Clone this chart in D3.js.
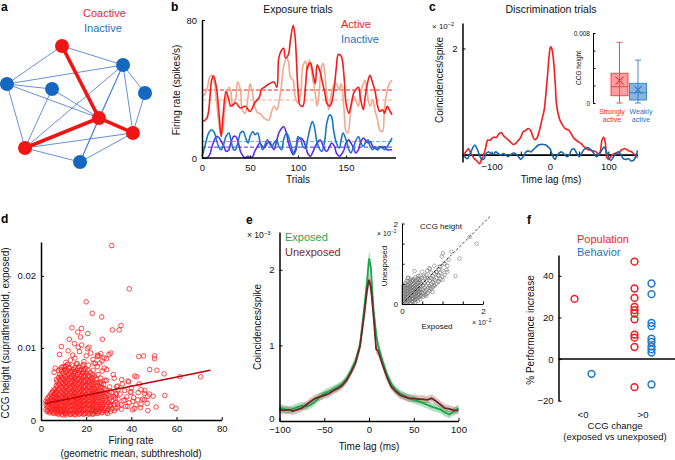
<!DOCTYPE html>
<html>
<head>
<meta charset="utf-8">
<script src="https://cdn.jsdelivr.net/npm/d3@7"></script>
<style>
  body { margin: 0; background: #fff; }
  svg { font-family: "Liberation Sans", Arial, Helvetica, sans-serif; }
</style>
</head>
<body>
<svg id="fig" width="675" height="460"></svg>
<script>
// ---------- data ----------
// a: network nodes (layout units) and edges
const netNodes = [
  { id: 'top', x: 4.07, y: 0.08, active: true },
  { id: 'ur', x: 8.43, y: 1.67, active: false },
  { id: 'left', x: 0.14, y: 3.25, active: false },
  { id: 'mid', x: 3.36, y: 3.67, active: false },
  { id: 'right', x: 10, y: 4.0, active: false },
  { id: 'ctr', x: 6.71, y: 6.08, active: true },
  { id: 'rr', x: 9.14, y: 7.33, active: true },
  { id: 'bl', x: 1.43, y: 8.58, active: true },
  { id: 'bot', x: 5.36, y: 9.75, active: false }
];
const thinEdges = [
  ['top', 'ur'], ['top', 'left'], ['left', 'ur'], ['left', 'mid'], ['left', 'ctr'],
  ['left', 'bl'], ['mid', 'bl'], ['mid', 'ctr'], ['ur', 'bl'], ['ur', 'ctr'],
  ['ur', 'bot'], ['ur', 'rr'], ['ur', 'right'], ['right', 'rr'], ['bl', 'rr'],
  ['bl', 'bot'], ['ctr', 'bot'], ['bot', 'rr']
];
const thickEdges = [['top', 'ctr'], ['ctr', 'rr'], ['ctr', 'bl']];

// b: firing rate per trial (spikes/s)
const activeA = [[0,21],[5,23],[10,45],[12,47.6],[15,41],[18,24],[20,12.5],[22,25],[25,38.5],[28,33.7],[30,30],[35,32],[40,29],[45,30],[50,27],[55,32],[60,35.6],[62,40],[65,41],[70,43],[75,44],[78,41],[80,58],[83,62.6],[85,63.6],[87,58],[90,60],[92,68],[95,77],[97,70],[100,39.5],[102,30.8],[105,30],[108,43],[110,53],[113,55],[115,51],[118,43],[120,54],[123,50],[125,45],[128,37.6],[130,31.8],[133,30],[135,32],[138,42],[140,53],[142,60],[145,59],[148,47],[150,31.8],[153,26],[155,30],[158,37.6],[160,39.5],[163,41],[165,34.7],[168,28],[170,35.6],[173,45],[175,48],[178,43],[180,39.5],[183,30],[185,27],[188,28],[190,26],[193,30],[195,28],[198,25]];
const activeB = [[0,34.7],[5,39.5],[8,47],[10,48],[13,43],[15,33.7],[18,18.3],[20,12.5],[22,18.3],[25,33.7],[28,41],[30,38.5],[32,30],[35,33.7],[37,44],[40,39.5],[42,28],[45,26],[48,35.6],[50,43],[52,39.5],[55,30],[58,26],[60,26],[65,23],[70,22],[72,26],[75,30],[78,28],[80,31.8],[83,43],[85,53],[88,58],[90,56],[92,47],[95,45],[97,35.6],[100,31.8],[103,37.6],[105,53],[108,56],[110,51],[112,57],[115,47],[118,37.6],[120,30],[122,37.6],[124,51],[126,55],[128,49],[130,35.6],[132,28],[135,37.6],[138,43],[140,43],[143,39.5],[145,43],[148,28],[150,15.4],[152,14.5],[155,28],[158,35.6],[160,33.7],[163,30],[165,37.6],[168,43],[170,45],[172,37.6],[175,30],[178,33.7],[180,28],[183,22],[185,16.4],[188,15.4],[190,28],[193,39.5],[195,43],[198,45]];
const inactiveA = [[0,1],[3,6.7],[7,14.5],[10,16.4],[13,14.5],[15,10.6],[18,5.8],[20,4.8],[23,8.7],[25,12.5],[28,14.5],[30,10.6],[33,4.8],[35,4.8],[38,10.6],[40,14.5],[43,15.4],[45,12.5],[48,8.7],[50,12.5],[53,15.4],[55,13.5],[58,14.5],[60,10.6],[63,4.8],[65,6.7],[68,10.6],[70,8.7],[73,6.7],[75,8.7],[78,10.6],[80,6.7],[83,4.8],[85,10.6],[88,14.5],[90,12.5],[93,6.7],[95,2.9],[98,6.7],[100,12.5],[103,10.6],[105,6.7],[108,5.8],[110,10.6],[113,18.3],[115,21.2],[117,18.3],[120,8.7],[123,4.8],[125,3.9],[128,10.6],[130,20.2],[133,25],[135,24],[137,16.4],[140,8.7],[143,5.8],[145,10.6],[147,14.5],[150,10.6],[153,4.8],[155,2.9],[158,6.7],[160,9.6],[163,12.5],[165,9.6],[168,6.7],[170,8.7],[173,10.6],[175,6.7],[178,4.8],[180,6.7],[183,4.8],[185,5.8],[188,6.7],[190,4.8],[193,6.7],[195,8.7],[198,11.6]];
const inactiveB = [[0,0],[5,0],[8,1.9],[10,5.8],[13,10.6],[15,12.5],[18,11.6],[20,9.6],[23,6.7],[25,3.9],[28,4.8],[30,8.7],[33,12.5],[35,12.5],[38,8.7],[40,3.9],[43,1],[45,0],[48,1],[50,0],[53,1],[55,3.9],[58,6.7],[60,8.7],[63,6.7],[65,5.8],[68,8.7],[70,9.6],[73,6.7],[75,4.8],[78,10.6],[80,14.5],[83,17.3],[85,18.3],[88,14.5],[90,8.7],[93,3.9],[95,1.9],[98,4.8],[100,10.6],[103,11.6],[105,10.6],[108,6.7],[110,2.9],[113,1],[115,2.9],[118,6.7],[120,8.7],[123,10.6],[125,8.7],[128,4.8],[130,3.9],[133,6.7],[135,8.7],[138,6.7],[140,2.9],[143,1],[145,1.9],[148,4.8],[150,8.7],[153,10.6],[155,8.7],[158,5.8],[160,2.9],[163,4.8],[165,8.7],[168,11.6],[170,10.6],[173,8.7],[175,9.6],[178,6.7],[180,5.8],[183,4.8],[185,6.7],[188,5.8],[190,6.7],[193,4.8],[195,4.8],[198,4.8]];
const meanRates = [39.4, 33.6, 9.5, 6.3]; // activeA, activeB, inactiveA, inactiveB

// c: CCG, time lag (ms) vs coincidences/spike (x1e-2)
const ccgStrong = [[-150,-0.04],[-146,0.02],[-140,0.11],[-138,0.08],[-135,0.01],[-132,-0.04],[-129,-0.09],[-126,-0.11],[-121,-0.17],[-117,-0.08],[-113,0.02],[-110,0.14],[-107,0.27],[-103,0.27],[-100,0.3],[-96,0.33],[-92,0.32],[-87,0.4],[-83,0.41],[-80,0.36],[-76,0.32],[-72,0.28],[-68,0.24],[-63,0.19],[-58,0.22],[-54,0.27],[-50,0.33],[-46,0.43],[-41,0.46],[-37,0.49],[-33,0.45],[-30,0.36],[-26,0.28],[-22,0.32],[-18,0.46],[-14,0.65],[-10,0.84],[-7,1.15],[-4,1.53],[-1,1.91],[1,2.03],[3,2.0],[6,1.78],[9,1.34],[11,0.96],[14,0.77],[17,0.65],[22,0.55],[26,0.49],[32,0.46],[36,0.4],[40,0.32],[45,0.27],[49,0.24],[53,0.21],[57,0.16],[62,0.11],[66,0.09],[70,0.08],[74,0.07],[79,0.05],[83,0.01],[86,0.05],[89,0.27],[92,0.33],[95,0.21],[97,-0.04],[100,-0.09],[104,-0.04],[109,0.01],[113,0.03],[117,0.03],[123,0.09],[129,0.11],[135,0.07],[140,0.05],[146,-0.01],[150,-0.06]];
const ccgWeak = [[-150,0.01],[-146,-0.04],[-142,-0.08],[-138,-0.01],[-133,0.11],[-129,0.18],[-125,0.11],[-121,-0.01],[-117,-0.09],[-113,-0.08],[-110,0.01],[-106,0.05],[-102,0.03],[-97,0.01],[-93,0.05],[-89,0.02],[-85,-0.01],[-80,0.02],[-76,-0.01],[-72,-0.04],[-68,-0.01],[-63,0.03],[-58,0.01],[-54,-0.04],[-50,-0.09],[-46,-0.04],[-41,0.05],[-37,0.07],[-33,0.05],[-29,0.09],[-24,0.14],[-20,0.18],[-16,0.19],[-11,0.19],[-7,0.18],[-3,0.14],[0,0.11],[3,0.02],[6,-0.06],[9,-0.09],[11,-0.04],[16,0.03],[20,0.05],[24,0.01],[29,-0.04],[33,-0.01],[37,0.09],[41,0.11],[46,0.02],[50,-0.04],[54,0.02],[58,0.09],[63,0.13],[68,0.11],[72,0.07],[76,0.01],[80,-0.04],[85,0.01],[89,0.09],[93,0.14],[96,0.08],[100,-0.04],[104,-0.11],[109,-0.04],[113,0.02],[117,0.05],[121,0.01],[126,-0.08],[131,-0.09],[135,-0.08],[139,-0.12],[143,-0.11],[148,-0.01],[150,0.08]];
// c inset: CCG height box stats (x1e-3)
const boxGroups = ['Strongly active', 'Weakly active'];
const boxStats = [
  { min: 0, q1: 0.83, med: 1.86, mean: 2.55, q3: 3.4, max: 6.94 },
  { min: 0, q1: 0.34, med: 1.18, mean: 1.49, q3: 2.25, max: 4.9 }
];

// d: firing rate vs CCG height (x1e-3)
const dSparse = [[31.3,24.2],[39.1,18.2],[20,16.4],[22.7,14.8],[26.9,14.3],[13.7,12.8],[16.3,12.2],[17.9,12.7],[20.7,12.0],[35.4,13.1],[34.6,12.5],[31.6,12.5],[27.2,11.2],[12.5,11.2],[14.8,10.6],[9,10.2],[8.2,9.1],[21.2,10.1],[17.5,11.5],[45.4,8.9],[43.3,8.8],[50.3,8.9],[50.3,8.5],[48.1,7.0],[51.3,6.9],[54.5,6.4],[61.5,6.0],[70.7,6.0],[42.4,6.0],[54.8,3.4],[51,1.8],[47.3,1.3],[58,1.9],[59.7,1.6],[30.9,9.3],[30.1,9.1],[25.7,8.9],[27.9,8.6],[6.3,7.2],[10.7,7.4],[38.8,5.3],[35.7,5.6],[39.9,3.8],[44.3,4.2],[45.8,3.7],[47.3,3.3],[49.6,3.3],[42.8,2.8],[41.3,1.6],[38.4,1.9],[37.2,2.8],[33.1,3.5],[33.9,4.7],[32.4,5.8],[29.1,7.0],[24.9,7.4],[23.4,7.9],[26.4,5.3],[29.4,0.9],[26.4,1.6],[24.2,1.2],[45.8,2.8],[44.3,2.2],[40.6,2.6],[35.4,2.1],
  [29,5.5],[30.5,4.0],[31,2.0],[32,6.3],[32.5,1.3],[33,3.0],[33.5,4.6],[34,2.2],[35,3.6],[35.5,1.5],[36,5.0],[36.5,2.7],[37,4.1],[37.5,1.9],[38,3.2],[38.5,5.4],[39,2.4],[40,4.5],[40.5,1.4],[41,3.1],[42,2.1],[43,3.8],[44,1.7],[45,2.9],[46,4.1],[47,2.3],[48,3.6],[43.5,5.0],[41.5,6.1],[39.5,3.9],
  [9,7.3],[11,8.0],[13,8.3],[14,9.0],[15,8.6],[16,7.8],[17,9.5],[19,8.1],[20,8.9],[21,7.6],[22,9.3],[23,8.4],[24,7.8],[25,8.8],[26,7.9],[27,8.2],[28,7.2],[12,9.6],[18,10.4],[20.5,9.9],[16.5,10.1],[25,9.0],[26.5,9.2],[29,8.5]];
const dDense = [
  [2.2,[1.5,2.2,2.6]], [3.1,[1.3,1.9,2.5,3.1]], [4.3,[1.1,1.7,2.3,2.9,3.6]],
  [5.2,[1.0,1.6,2.1,2.8,3.4,4.0]], [6.4,[1.2,1.8,2.4,3.0,3.7,4.3]],
  [7.1,[0.9,1.5,2.0,2.6,3.2,3.9,4.6,5.3]], [8.3,[1.1,1.7,2.3,2.9,3.5,4.2,4.9,5.6,6.3]],
  [9.2,[0.8,1.4,2.0,2.6,3.2,3.8,4.5,5.2,5.9,6.8]], [10.4,[1.0,1.6,2.2,2.8,3.4,4.1,4.8,5.5,6.2,7.0]],
  [11.1,[0.7,1.3,1.9,2.5,3.1,3.7,4.4,5.1,5.8,6.6,7.5]], [12.3,[1.1,1.7,2.3,2.9,3.5,4.2,4.9,5.6,6.3,7.2]],
  [13.2,[0.8,1.4,2.0,2.6,3.2,3.9,4.6,5.3,6.0,6.8]], [14.4,[1.0,1.6,2.2,2.8,3.4,4.1,4.8,5.5,6.2,7.0]],
  [15.1,[0.7,1.3,1.9,2.5,3.1,3.7,4.4,5.1,5.8,6.5,7.3]], [16.3,[1.1,1.7,2.3,2.9,3.5,4.2,4.9,5.6,6.3,7.1]],
  [17.2,[0.9,1.5,2.1,2.7,3.3,4.0,4.7,5.4,6.1,6.9]], [18.4,[1.2,1.8,2.4,3.0,3.6,4.3,5.0,5.7,6.5,7.4]],
  [19.1,[0.9,1.5,2.1,2.7,3.3,4.0,4.7,5.4,6.2,7.0]], [20.3,[1.1,1.7,2.3,2.9,3.5,4.2,4.9,5.6,6.4]],
  [21.2,[0.8,1.4,2.0,2.6,3.2,3.9,4.6,5.3,6.1]], [22.4,[1.2,1.8,2.4,3.0,3.7,4.4,5.1,5.9]],
  [23.1,[0.9,1.5,2.1,2.8,3.5,4.2,5.0,5.8,6.9]], [24.3,[1.3,1.9,2.6,3.3,4.0,4.8,5.6]],
  [25.2,[1.0,1.7,2.4,3.1,3.9,4.7,6.3]], [26.4,[1.4,2.1,2.9,3.7,4.6,5.8]],
  [27.1,[1.1,1.9,2.7,3.6,4.5,6.8]], [28.3,[1.6,2.4,3.3,4.3,5.5]], [29.2,[1.3,2.2,3.1,4.1]],
  [30.4,[1.9,2.9,4.6]], [31.3,[1.5,2.6,3.8]], [32.2,[2.2,3.3]], [34.1,[1.8,2.9,4.2]],
  [2.7,[1.2,1.8,2.4,2.9]], [3.7,[1.0,1.6,2.2,2.7,3.3]], [4.8,[1.3,1.9,2.5,3.2,3.8]],
  [5.8,[0.9,1.4,1.9,2.6,3.1,3.6,4.2,6.6]], [6.8,[1.1,1.6,2.2,2.8,3.4,4.0,4.8,5.6]],
  [7.7,[0.8,1.3,1.8,2.4,3.0,3.6,4.3,5.0,5.9,6.9]], [8.8,[1.0,1.5,2.0,2.6,3.2,3.9,4.6,5.4,6.1,7.0]],
  [9.8,[0.7,1.2,1.8,2.4,3.0,3.6,4.3,5.0,5.7,6.5,7.4]], [10.8,[0.9,1.4,2.0,2.6,3.2,3.9,4.6,5.3,6.0,6.8]],
  [11.7,[1.0,1.6,2.2,2.8,3.4,4.0,4.7,5.4,6.1,6.9,7.7]], [12.8,[0.8,1.3,1.9,2.5,3.1,3.7,4.4,5.1,5.8,6.5,7.3]],
  [13.8,[0.9,1.5,2.1,2.7,3.3,3.9,4.6,5.3,6.0,6.7,7.6]], [14.8,[0.8,1.4,2.0,2.6,3.2,3.8,4.5,5.2,5.9,6.7]],
  [15.7,[1.0,1.6,2.2,2.8,3.4,4.0,4.7,5.4,6.1,6.9,7.8]], [16.8,[0.8,1.3,1.9,2.5,3.1,3.7,4.4,5.1,5.8,6.6,7.4]],
  [17.8,[1.0,1.6,2.2,2.8,3.4,4.1,4.8,5.5,6.2,7.0]], [18.8,[0.8,1.4,2.0,2.6,3.2,3.9,4.6,5.3,6.0,6.8,7.7]],
  [19.7,[1.0,1.6,2.2,2.8,3.4,4.1,4.8,5.5,6.2,7.1]], [20.8,[0.9,1.5,2.1,2.7,3.3,4.0,4.7,5.4,6.2,6.9]],
  [21.8,[1.0,1.6,2.2,2.8,3.5,4.2,4.9,5.6,6.6]], [22.8,[0.8,1.4,2.0,2.6,3.3,4.0,4.7,5.5,6.3]],
  [23.7,[1.1,1.7,2.3,3.0,3.7,4.4,5.2,6.1]], [24.8,[0.9,1.5,2.2,2.9,3.6,4.4,5.2]],
  [25.8,[1.2,1.9,2.6,3.4,4.2,5.1]], [26.8,[1.0,1.7,2.4,3.2,4.0,5.0]], [27.7,[1.3,2.1,2.9,3.8,4.9]],
  [28.8,[1.1,1.9,2.7,3.6]], [29.8,[1.5,2.4,3.4]], [30.8,[1.2,2.2,3.2]], [33.2,[1.6,2.5,3.7]]
];
const dFit = [[2, 2.3], [75, 6.9]];

// e: average CCG (x1e-3)
const eLag = [-100,-95,-90,-85,-80,-75,-70,-65,-60,-55,-50,-45,-40,-35,-30,-25,-20,-15,-10,-5,-2,0,2,5,8,10,15,20,25,30,35,40,45,50,55,60,65,70,75,80,85,90,95,100];
const eExposed = [0.17,0.16,0.14,0.16,0.185,0.2,0.19,0.215,0.26,0.32,0.365,0.39,0.42,0.45,0.49,0.56,0.67,0.8,1.01,1.53,1.87,2.15,2.04,1.48,1.15,1.01,0.8,0.62,0.49,0.41,0.36,0.33,0.3,0.28,0.26,0.24,0.215,0.19,0.17,0.15,0.11,0.086,0.13,0.17];
const eUnexposed = [0.15,0.14,0.15,0.13,0.15,0.17,0.215,0.26,0.3,0.32,0.34,0.36,0.4,0.43,0.47,0.54,0.645,0.77,0.99,1.44,1.75,1.87,1.78,1.4,0.95,0.93,0.75,0.58,0.45,0.39,0.34,0.32,0.3,0.3,0.29,0.29,0.28,0.3,0.26,0.215,0.17,0.16,0.14,0.14];
const eSem = [.05,.05,.05,.05,.05,.05,.05,.05,.05,.05,.05,.05,.05,.05,.05,.05,.05,.06,.07,.09,.1,.11,.1,.09,.07,.06,.05,.05,.05,.05,.05,.05,.05,.05,.05,.05,.05,.05,.05,.05,.05,.05,.05,.05];
// e inset: CCG height exposed vs unexposed (x1e-2)
const eInsetDense = [
  [0.03,[0.03,0.1,0.17,0.24,0.31,0.38,0.45]], [0.09,[0.02,0.09,0.16,0.23,0.3,0.37,0.44,0.52]],
  [0.15,[0.05,0.12,0.19,0.26,0.33,0.4,0.47,0.55,0.65]], [0.21,[0.03,0.1,0.17,0.24,0.31,0.38,0.45,0.53,0.62]],
  [0.27,[0.06,0.13,0.2,0.27,0.34,0.41,0.49,0.58]], [0.33,[0.04,0.11,0.18,0.25,0.32,0.39,0.47,0.56,0.66]],
  [0.39,[0.08,0.15,0.22,0.29,0.36,0.44,0.53,0.63]], [0.45,[0.12,0.2,0.28,0.36,0.45,0.55,0.7]],
  [0.52,[0.18,0.27,0.36,0.46,0.57]], [0.6,[0.25,0.35,0.46,0.58,0.72]], [0.68,[0.33,0.45,0.58,0.88]],
  [0.76,[0.42,0.55,0.7]], [0.85,[0.5,0.65,0.8]], [0.95,[0.62,0.78,0.93]], [1.05,[0.72,1.0]],
  [0.06,[0.06,0.13,0.2,0.27,0.34,0.41,0.48]], [0.12,[0.04,0.11,0.18,0.25,0.32,0.39,0.46,0.58]],
  [0.18,[0.08,0.15,0.22,0.29,0.36,0.43,0.5]], [0.24,[0.06,0.13,0.2,0.27,0.34,0.41,0.48,0.57]],
  [0.3,[0.09,0.16,0.23,0.3,0.37,0.44,0.52,0.62]], [0.36,[0.13,0.2,0.27,0.34,0.41,0.5,0.59]],
  [0.42,[0.17,0.24,0.31,0.39,0.48,0.6]], [0.48,[0.2,0.29,0.38,0.5,0.64]], [0.56,[0.22,0.31,0.41,0.52,0.66]],
  [0.64,[0.28,0.39,0.51,0.65]], [0.72,[0.37,0.5,0.64,0.78]], [0.8,[0.47,0.6,0.75]],
  [0.9,[0.57,0.72,0.86]], [1.0,[0.68,0.83]], [1.12,[0.8,0.95]]
];
const eInsetSparse = [[0.31,0.82],[0.68,0.88],[0.85,0.8],[0.93,0.93],[1.01,1.26],[1.05,1.0],[1.22,1.3],[1.32,0.69],[1.42,1.13],[1.67,1.67],[1.84,1.5],[0.55,0.7],[0.75,0.62],[0.62,0.82],[0.9,0.7],[1.1,0.85],[0.5,0.8],[0.8,0.95],[1.15,1.1],[0.98,1.18],[0.4,0.7],[0.45,0.6],[0.25,0.6],[0.7,0.4],[0.8,0.45],[0.9,0.55],[1.0,0.6],[0.15,0.65],[0.6,0.2],[0.75,0.3]];

// f: % performance increase by CCG change sign
const fCats = ['<0', '>0'];
const fPopulation = [['<0',28.9],['>0',46.8],['>0',33.9],['>0',29.4],['>0',25.1],['>0',23.5],['>0',21.9],['>0',19.1],['>0',11.7],['>0',10.3],['>0',5.8],['>0',-13.5]];
const fBehavior = [['<0',-7.1],['>0',36.3],['>0',31.2],['>0',17.4],['>0',15.8],['>0',9.8],['>0',8.2],['>0',6.1],['>0',4.7],['>0',3.1],['>0',-12.2]];

// ---------- helpers ----------
const FONT = '"Liberation Sans", Arial, Helvetica, sans-serif';
const RED = '#f51d1d';
const BLUE = '#1f72c0';
const minus = d => String(d).replace('-', '−');
const svg = d3.select('#fig');

function label(x, y, s, o = {}) {
  const t = svg.append('text')
    .attr('x', x).attr('y', y)
    .attr('font-size', o.size || 10)
    .attr('fill', o.fill || '#111')
    .attr('text-anchor', o.anchor || 'start')
    .attr('font-weight', o.weight || 'normal')
    .text(s);
  if (o.rotate) t.attr('transform', `rotate(-90,${x},${y})`);
  return t;
}

function sciLabel(x, y, exp, size) {
  const t = svg.append('text').attr('x', x).attr('y', y).attr('font-size', size).attr('fill', '#111');
  t.append('tspan').text('× 10');
  t.append('tspan').attr('font-size', size * 0.7).attr('dy', -size * 0.4).text('−' + exp);
}

function styleAxis(g, w, size) {
  g.attr('font-family', FONT);
  g.select('.domain').attr('stroke', '#000').attr('stroke-width', w || 1.5);
  g.selectAll('.tick line').attr('stroke', '#000').attr('stroke-width', 1);
  g.selectAll('.tick text').attr('font-size', size || 9.5).attr('fill', '#111');
}

function letter(x, y, s) {
  label(x, y, s, { size: 12, weight: 'bold', fill: '#000' });
}

// ---------- a ----------
letter(1, 11, 'a');
label(83, 17, 'Coactive', { size: 11, fill: RED });
label(84, 32, 'Inactive', { size: 11, fill: BLUE });

const aX = d3.scaleLinear().domain([0, 10]).range([5, 145]);
const aY = d3.scaleLinear().domain([0, 10]).range([45, 165]);
const nodeById = new Map(netNodes.map(n => [n.id, n]));

svg.append('g').selectAll('line').data(thinEdges).enter().append('line')
  .attr('x1', d => aX(nodeById.get(d[0]).x)).attr('y1', d => aY(nodeById.get(d[0]).y))
  .attr('x2', d => aX(nodeById.get(d[1]).x)).attr('y2', d => aY(nodeById.get(d[1]).y))
  .attr('stroke', '#3f74cf').attr('stroke-width', 0.8);
svg.append('g').selectAll('line').data(thickEdges).enter().append('line')
  .attr('x1', d => aX(nodeById.get(d[0]).x)).attr('y1', d => aY(nodeById.get(d[0]).y))
  .attr('x2', d => aX(nodeById.get(d[1]).x)).attr('y2', d => aY(nodeById.get(d[1]).y))
  .attr('stroke', '#f01515').attr('stroke-width', 3.6);
svg.append('g').selectAll('circle').data(netNodes).enter().append('circle')
  .attr('cx', d => aX(d.x)).attr('cy', d => aY(d.y)).attr('r', 7)
  .attr('fill', d => d.active ? '#f01515' : '#1468c0');

// ---------- b ----------
letter(171, 11, 'b');
label(298, 13, 'Exposure trials', { size: 10.5, anchor: 'middle' });
label(341, 28, 'Active', { size: 11, fill: RED });
label(341, 43, 'Inactive', { size: 11, fill: BLUE });

const bX = d3.scaleLinear().domain([0, 200]).range([202, 394]);
const bY = d3.scaleLinear().domain([0, 80]).range([158, 20]);
const bLine = d3.line().x(d => bX(d[0])).y(d => bY(d[1])).curve(d3.curveCatmullRom.alpha(0.5));
const bSeries = [
  { data: activeB, color: '#f2a98c' },
  { data: activeA, color: '#f41c1c' },
  { data: inactiveB, color: '#5a2de6' },
  { data: inactiveA, color: '#1a78c2' }
];
const bMeanColors = ['#f41c1c', '#f2a98c', '#4fb3d4', '#4b2bd8'];
svg.append('g').selectAll('line').data(meanRates).enter().append('line')
  .attr('x1', bX(0)).attr('x2', bX(200))
  .attr('y1', d => bY(d)).attr('y2', d => bY(d))
  .attr('stroke', (d, i) => bMeanColors[i]).attr('stroke-width', 1)
  .attr('stroke-dasharray', '4,2');
svg.append('g').selectAll('path').data(bSeries).enter().append('path')
  .attr('d', d => bLine(d.data)).attr('fill', 'none')
  .attr('stroke', d => d.color).attr('stroke-width', 1.6);

const bxAxis = svg.append('g').attr('transform', `translate(0,${bY(0)})`)
  .call(d3.axisBottom(bX).tickValues([0, 50, 100, 150]).tickSize(-2.5).tickPadding(6).tickFormat(minus));
bxAxis.select('.domain').attr('d', `M${bX(0)},0H${bX(200) + 2}`);
styleAxis(bxAxis);
const byAxis = svg.append('g').attr('transform', `translate(${bX(0)},0)`)
  .call(d3.axisLeft(bY).tickValues([0, 80]).tickSize(-3).tickSizeOuter(0).tickPadding(5).tickFormat(minus));
styleAxis(byAxis);
label(298, 183, 'Trials', { anchor: 'middle' });
label(180, 90, 'Firing rate (spikes/s)', { anchor: 'middle', rotate: true });

// ---------- c ----------
letter(429, 11, 'c');
label(551, 13, 'Discrimination trials', { size: 10.5, anchor: 'middle' });
sciLabel(432, 29, 2, 8);

const cX = d3.scaleLinear().domain([-150, 150]).range([462.5, 637.5]);
const cY = d3.scaleLinear().domain([-0.14, 2.48]).range([162, 23]);
const cLine = d3.line().x(d => cX(d[0])).y(d => cY(d[1])).curve(d3.curveCatmullRom.alpha(0.5));

const cxAxis = svg.append('g').attr('transform', `translate(0,${cY(0)})`)
  .call(d3.axisBottom(cX).tickValues([-100, -50, 0, 50, 100]).tickSize(-3).tickSizeOuter(0).tickPadding(9)
    .tickFormat(d => (d % 100 === 0 ? minus(d) : '')));
styleAxis(cxAxis, 1.8);
svg.append('path').attr('d', cLine(ccgStrong)).attr('fill', 'none').attr('stroke', '#f41c1c').attr('stroke-width', 1.6);
svg.append('path').attr('d', cLine(ccgWeak)).attr('fill', 'none').attr('stroke', '#1a66b0').attr('stroke-width', 1.6);
const cyAxis = svg.append('g').attr('transform', `translate(${cX(-150)},0)`)
  .call(d3.axisLeft(cY).tickValues([2]).tickSize(-3).tickSizeOuter(0).tickPadding(5).tickFormat(minus));
styleAxis(cyAxis);
label(551, 183, 'Time lag (ms)', { anchor: 'middle' });
label(443, 80, 'Coincidences/spike', { anchor: 'middle', rotate: true });

// c inset box plot
const ibX = d3.scalePoint().domain(boxGroups).range([619.5, 638]);
const ibY = d3.scaleLinear().domain([0, 8]).range([103, 33]);
const ibAxis = svg.append('g').attr('transform', 'translate(593,0)')
  .call(d3.axisLeft(ibY).tickValues([0, 2, 4, 6, 8]).tickSize(-2.5).tickSizeOuter(0).tickPadding(3)
    .tickFormat(d => (d === 0 ? '0' : d === 8 ? '0.008' : '')));
styleAxis(ibAxis, 1, 6.5);
label(581, 68, 'CCG height', { size: 6.5, anchor: 'middle', rotate: true });
const boxColors = [{ s: '#f03a3a', f: 'rgba(242,80,80,0.55)' }, { s: '#2f7fca', f: 'rgba(40,120,200,0.55)' }];
const bw = 17;
boxStats.forEach((b, i) => {
  const cx = ibX(boxGroups[i]);
  const col = boxColors[i];
  const g = svg.append('g').attr('stroke', col.s).attr('stroke-width', 0.9);
  g.append('line').attr('x1', cx).attr('x2', cx).attr('y1', ibY(b.max)).attr('y2', ibY(b.min));
  g.append('line').attr('x1', cx - 3).attr('x2', cx + 3).attr('y1', ibY(b.max)).attr('y2', ibY(b.max));
  g.append('line').attr('x1', cx - 3).attr('x2', cx + 3).attr('y1', ibY(b.min)).attr('y2', ibY(b.min));
  g.append('rect').attr('x', cx - bw / 2).attr('width', bw)
    .attr('y', ibY(b.q3)).attr('height', ibY(b.q1) - ibY(b.q3)).attr('fill', col.f);
  g.append('line').attr('x1', cx - bw / 2).attr('x2', cx + bw / 2).attr('y1', ibY(b.med)).attr('y2', ibY(b.med));
  const m = 4;
  g.append('path').attr('stroke-width', 1.1)
    .attr('d', `M${cx - m},${ibY(b.mean) - m}L${cx + m},${ibY(b.mean) + m}M${cx - m},${ibY(b.mean) + m}L${cx + m},${ibY(b.mean) - m}`);
});
label(612, 114, 'Strongly', { size: 7, anchor: 'middle', fill: RED });
label(612, 122, 'active', { size: 7, anchor: 'middle', fill: RED });
label(641, 114, 'Weakly', { size: 7, anchor: 'middle', fill: BLUE });
label(641, 122, 'active', { size: 7, anchor: 'middle', fill: BLUE });

// ---------- d ----------
letter(1, 223, 'd');
const dX = d3.scaleLinear().domain([0, 80]).range([41, 221.7]);
const dY = d3.scaleLinear().domain([0, 24.7]).range([420, 242]);
const dPoints = dSparse.concat(dDense.flatMap(c => c[1].map(y => [c[0], y])));
svg.append('g').selectAll('circle').data(dPoints).enter().append('circle')
  .attr('cx', d => dX(d[0])).attr('cy', d => dY(d[1])).attr('r', 2.3)
  .attr('fill', 'none').attr('stroke', '#ff1d1d').attr('stroke-width', 0.8);
svg.append('line')
  .attr('x1', dX(dFit[0][0])).attr('y1', dY(dFit[0][1]))
  .attr('x2', dX(dFit[1][0])).attr('y2', dY(dFit[1][1]))
  .attr('stroke', '#c00010').attr('stroke-width', 1.6);
const dxAxis = svg.append('g').attr('transform', `translate(0,${dY(0)})`)
  .call(d3.axisBottom(dX).tickValues([0, 20, 40, 60, 80]).tickSize(-3).tickSizeOuter(0).tickPadding(5).tickFormat(minus));
styleAxis(dxAxis);
const dyAxis = svg.append('g').attr('transform', `translate(${dX(0)},0)`)
  .call(d3.axisLeft(dY).tickValues([0, 10, 20]).tickSize(-3).tickSizeOuter(0).tickPadding(5)
    .tickFormat(d => (d === 0 ? '0' : d3.format('.2f')(d / 1000))));
styleAxis(dyAxis);
label(131, 444, 'Firing rate', { anchor: 'middle' });
label(131, 457, '(geometric mean, subthreshold)', { anchor: 'middle' });
label(9, 333, 'CCG height (suprathreshold, exposed)', { anchor: 'middle', rotate: true });

// ---------- e ----------
letter(246, 224, 'e');
sciLabel(247, 238, 3, 8.5);
label(285, 241, 'Exposed', { size: 11, fill: '#1aa84c' });
label(285, 256, 'Unexposed', { size: 11, fill: '#7a2a2a' });

const eX = d3.scaleLinear().domain([-100, 100]).range([279.5, 458.5]);
const eY = d3.scaleLinear().domain([0, 2.5]).range([421, 232]);
const eRows = eLag.map((t, i) => ({ t, ex: eExposed[i], un: eUnexposed[i], s: eSem[i] }));
const eArea = key => d3.area().x(d => eX(d.t)).y0(d => eY(d[key] - d.s)).y1(d => eY(d[key] + d.s));
const eLine = key => d3.line().x(d => eX(d.t)).y(d => eY(d[key]));
svg.append('path').attr('d', eArea('ex')(eRows)).attr('fill', '#1aa84c').attr('opacity', 0.35);
svg.append('path').attr('d', eArea('un')(eRows)).attr('fill', '#8a3a3a').attr('opacity', 0.3);
svg.append('path').attr('d', eLine('ex')(eRows)).attr('fill', 'none').attr('stroke', '#1aa84c').attr('stroke-width', 1.8);
svg.append('path').attr('d', eLine('un')(eRows)).attr('fill', 'none').attr('stroke', '#722626').attr('stroke-width', 1.8);
const exAxis = svg.append('g').attr('transform', `translate(0,${eY(0)})`)
  .call(d3.axisBottom(eX).tickValues([-100, -50, 0, 50, 100]).tickSize(-3).tickSizeOuter(0).tickPadding(5)
    .tickFormat(minus));
styleAxis(exAxis);
const eyAxis = svg.append('g').attr('transform', `translate(${eX(-100)},0)`)
  .call(d3.axisLeft(eY).tickValues([0, 1, 2]).tickSize(-3).tickSizeOuter(0).tickPadding(5).tickFormat(minus));
styleAxis(eyAxis);
eyAxis.selectAll('.tick text').attr('dy', d => (d === 0 ? '0.1em' : '0.32em'));
label(369, 450, 'Time lag (ms)', { anchor: 'middle' });
label(261, 327, 'Coincidences/spike', { anchor: 'middle', rotate: true });

// e inset
const iX = d3.scaleLinear().domain([0, 2]).range([402, 483]);
const iY = d3.scaleLinear().domain([0, 2]).range([304, 223.5]);
const iPoints = eInsetSparse.concat(eInsetDense.flatMap(c => c[1].map(y => [c[0], y])));
svg.append('g').selectAll('circle').data(iPoints).enter().append('circle')
  .attr('cx', d => iX(d[0])).attr('cy', d => iY(d[1])).attr('r', 1.8)
  .attr('fill', 'none').attr('stroke', '#777').attr('stroke-width', 0.6);
svg.append('line').attr('x1', iX(0)).attr('y1', iY(0)).attr('x2', iX(2.17)).attr('y2', iY(2.17))
  .attr('stroke', '#000').attr('stroke-width', 0.8).attr('stroke-dasharray', '2.5,2');
const ixAxis = svg.append('g').attr('transform', `translate(0,${iY(0)})`)
  .call(d3.axisBottom(iX).tickValues([0, 0.5, 1, 1.5, 2]).tickSize(-2.5).tickSizeOuter(0).tickPadding(4)
    .tickFormat(d => (d === 0 || d === 2 ? String(d) : '')));
styleAxis(ixAxis, 1, 8);
const iyAxis = svg.append('g').attr('transform', `translate(${iX(0)},0)`)
  .call(d3.axisLeft(iY).tickValues([0, 0.5, 1, 1.5, 2]).tickSize(-2.5).tickSizeOuter(0).tickPadding(4)
    .tickFormat(d => (d === 0 || d === 2 ? String(d) : '')));
styleAxis(iyAxis, 1, 8);
label(441, 229, 'CCG height', { size: 8, anchor: 'middle' });
label(437, 329, 'Exposed', { size: 8, anchor: 'middle' });
label(387, 266, 'Unexposed', { size: 8, anchor: 'middle', rotate: true });
sciLabel(377, 236, 2, 7);
sciLabel(472, 325, 2, 7);

// ---------- f ----------
letter(527, 224, 'f');
label(577, 243, 'Population', { size: 11, fill: RED });
label(577, 256, 'Behavior', { size: 11, fill: BLUE });
const fX = d3.scalePoint().domain(fCats).range([583, 643]);
const fY = d3.scaleLinear().domain([-20, 50]).range([400.7, 255]);
svg.append('line').attr('x1', 558.5).attr('x2', 675).attr('y1', fY(0)).attr('y2', fY(0))
  .attr('stroke', '#000').attr('stroke-width', 1.4);
const fyAxis = svg.append('g').attr('transform', 'translate(558.5,0)')
  .call(d3.axisLeft(fY).tickValues([-20, 0, 20, 40]).tickSize(-3).tickSizeOuter(0).tickPadding(5)
    .tickFormat(minus));
styleAxis(fyAxis);
const fGroups = [{ data: fPopulation, dx: -8.5, color: '#f41c1c' }, { data: fBehavior, dx: 8.5, color: '#1f78c8' }];
fGroups.forEach(gp => {
  svg.append('g').selectAll('circle').data(gp.data).enter().append('circle')
    .attr('cx', d => fX(d[0]) + gp.dx).attr('cy', d => fY(d[1])).attr('r', 3.4)
    .attr('fill', 'none').attr('stroke', gp.color).attr('stroke-width', 1.5);
});
fCats.forEach(c => label(fX(c), 417.5, c, { size: 9.5, anchor: 'middle' }));
label(615, 428.5, 'CCG change', { size: 9.5, anchor: 'middle' });
label(615, 440, '(exposed vs unexposed)', { size: 9.5, anchor: 'middle' });
label(534, 330, '% Performance increase', { anchor: 'middle', rotate: true });
</script>
</body>
</html>
